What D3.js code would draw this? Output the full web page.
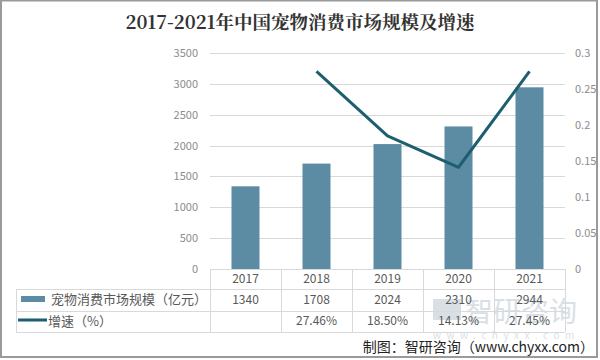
<!DOCTYPE html>
<html><head><meta charset="utf-8">
<script src="https://cdn.jsdelivr.net/npm/d3@7"></script>
<style>body{margin:0;background:#fff}svg{display:block}</style>
</head><body>
<svg id="c" width="600" height="360"></svg>
<script>
const title = "2017-2021年中国宠物消费市场规模及增速";
const years = ["2017","2018","2019","2020","2021"];
const marketSize = [1340,1708,2024,2310,2944];
const growth = [null,0.2746,0.1850,0.1413,0.2745];
const growthLabels = ["","27.46%","18.50%","14.13%","27.45%"];
const leftTicks = [0,500,1000,1500,2000,2500,3000,3500];
const rightTicks = [0,0.05,0.1,0.15,0.2,0.25,0.3];
const seriesNames = ["宠物消费市场规模（亿元）","增速（%）"];
const source = "制图：智研咨询（www.chyxx.com）";

const svg = d3.select("#c");
const font = "'Noto Sans CJK SC','Noto Sans',sans-serif";
const barColor = "#5b8ca4", lineColor = "#1d5f6f", gridColor = "#d9d9d9", textColor = "#595959";

// frame
svg.append("rect").attr("x",1).attr("y",0.5).attr("width",596).attr("height",356.5)
  .attr("fill","none").attr("stroke","#9a9a9a").attr("stroke-width",2);

svg.append("text").attr("x",300).attr("y",29).attr("text-anchor","middle")
  .attr("font-family","'Noto Serif CJK SC','Noto Sans CJK SC',serif").attr("font-weight","bold")
  .attr("font-size",18.5).attr("fill","#333").text(title);

const x0 = 210, x1 = 565, yTop = 53, yBot = 269;
const xc = d3.scaleBand().domain(years).range([x0,x1]);
const yL = d3.scaleLinear().domain([0,3500]).range([yBot,yTop]);
const yR = d3.scaleLinear().domain([0,0.3]).range([yBot,yTop]);

// watermark (behind)
const wm = svg.append("g").attr("opacity",0.4);
wm.append("rect").attr("x",433).attr("y",299).attr("width",28).attr("height",21).attr("fill","#9fb3c2");
wm.append("text").attr("x",465).attr("y",322).attr("font-family",font).attr("font-size",28).attr("fill","#9fb3c2").text("智研咨询");
wm.append("text").attr("x",433).attr("y",339).attr("font-family",font).attr("font-size",10).attr("letter-spacing",5.5).attr("fill","#9fb3c2").text("www.chyxx.com");

// gridlines
svg.append("g").selectAll("line").data(leftTicks.slice(1)).join("line")
  .attr("x1",x0).attr("x2",x1).attr("y1",d=>Math.round(yL(d))+0.5).attr("y2",d=>Math.round(yL(d))+0.5)
  .attr("stroke",gridColor).attr("stroke-width",1);

// left axis
const gl = svg.append("g").attr("transform",`translate(${x0-12},0)`)
  .call(d3.axisLeft(yL).tickValues(leftTicks).tickSize(0).tickPadding(0).tickFormat(d3.format("d")));
gl.select(".domain").remove();
gl.selectAll("text").attr("font-family",font).attr("font-size",11).attr("fill","#8c8c8c");

// right axis
const gr = svg.append("g").attr("transform",`translate(${x1+10},0)`)
  .call(d3.axisRight(yR).tickValues(rightTicks).tickSize(0).tickPadding(0).tickFormat(d=>String(d)));
gr.select(".domain").remove();
gr.selectAll("text").attr("font-family",font).attr("font-size",11).attr("fill","#8c8c8c");

// bars
svg.append("g").selectAll("rect").data(marketSize).join("rect")
  .attr("x",(d,i)=>xc(years[i])+xc.bandwidth()/2-14).attr("width",28)
  .attr("y",d=>yL(d)).attr("height",d=>yBot-yL(d)).attr("fill",barColor);

// line
const pts = growth.map((g,i)=>[years[i],g]).filter(p=>p[1]!==null);
svg.append("path").datum(pts)
  .attr("d",d3.line().x(p=>xc(p[0])+xc.bandwidth()/2).y(p=>yR(p[1])))
  .attr("fill","none").attr("stroke",lineColor).attr("stroke-width",3).attr("stroke-linejoin","round");

// table
const rows = [yBot, 289, 311, 332];
const tg = svg.append("g").attr("stroke",gridColor).attr("stroke-width",1);
tg.append("line").attr("x1",x0).attr("x2",x1).attr("y1",rows[0]+0.5).attr("y2",rows[0]+0.5);
[rows[1],rows[2],rows[3]].forEach(r=>tg.append("line").attr("x1",16).attr("x2",x1).attr("y1",r+0.5).attr("y2",r+0.5));
tg.append("line").attr("x1",16.5).attr("x2",16.5).attr("y1",rows[1]).attr("y2",rows[3]);
years.forEach((y,i)=>tg.append("line").attr("x1",xc(y)+0.5).attr("x2",xc(y)+0.5).attr("y1",rows[0]).attr("y2",rows[3]));
tg.append("line").attr("x1",x1+0.5).attr("x2",x1+0.5).attr("y1",rows[0]).attr("y2",rows[3]);

const tt = svg.append("g").attr("font-family",font).attr("font-size",12).attr("fill",textColor).attr("text-anchor","middle");
years.forEach((y,i)=>{
  const cx = xc(y)+xc.bandwidth()/2;
  tt.append("text").attr("x",cx).attr("y",283).text(y);
  tt.append("text").attr("x",cx).attr("y",304).text(marketSize[i]);
  tt.append("text").attr("x",cx).attr("y",325).text(growthLabels[i]);
});

// legend in table
svg.append("rect").attr("x",21).attr("y",296).attr("width",24).attr("height",6).attr("fill",barColor);
svg.append("line").attr("x1",18).attr("x2",47).attr("y1",320).attr("y2",320).attr("stroke",lineColor).attr("stroke-width",3);
svg.append("text").attr("x",51).attr("y",304).attr("font-family",font).attr("font-size",13).attr("fill",textColor).text(seriesNames[0]);
svg.append("text").attr("x",48).attr("y",326).attr("font-family",font).attr("font-size",13).attr("fill",textColor).text(seriesNames[1]);

svg.append("text").attr("x",594).attr("y",352).attr("text-anchor","end").attr("font-family",font)
  .attr("font-size",14).attr("fill","#222").text(source);
</script>
</body></html>
